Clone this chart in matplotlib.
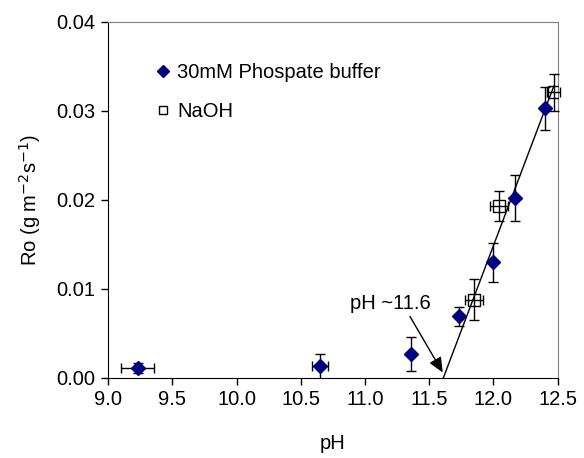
import numpy as np
import matplotlib
matplotlib.use('Agg')
import matplotlib.pyplot as plt

plt.rcParams['font.family'] = ['Liberation Sans', 'DejaVu Sans']

# 30mM phosphate buffer (diamonds)
ph_buf = [9.23, 10.65, 11.36, 11.73, 12.00, 12.17, 12.40]
r_buf = [0.0011, 0.0013, 0.0027, 0.0069, 0.0130, 0.0202, 0.0303]
r_buf_err = [0.0006, 0.0014, 0.0019, 0.0011, 0.0022, 0.0026, 0.0024]
ph_buf_err = [0.13, 0.065, 0.0, 0.0, 0.0, 0.0, 0.0]

# NaOH (open squares)
ph_naoh = [11.85, 12.04, 12.47]
r_naoh = [0.0088, 0.0193, 0.0321]
r_naoh_err = [0.0023, 0.0017, 0.0021]
ph_naoh_err = [0.07, 0.07, 0.05]

# fitted line through onset pH ~11.6
fit_ph = [11.61, 12.47]
fit_r = [0.0, 0.0328]

FS = 14.5

fig = plt.figure(figsize=(5.84, 4.58), dpi=100)
ax = fig.add_axes([0.185, 0.175, 0.77, 0.777])

ax.plot(fit_ph, fit_r, color='black', lw=1.0, zorder=2)

ax.errorbar(ph_buf, r_buf, yerr=r_buf_err, xerr=ph_buf_err, fmt='none',
            ecolor='black', elinewidth=1.0, capsize=3.5, capthick=1.0, zorder=3)
ax.plot(ph_buf, r_buf, ls='none', marker='D', ms=7.5, color='#000080',
        mec='#000080', zorder=4, label='30mM Phospate buffer')

ax.errorbar(ph_naoh, r_naoh, yerr=r_naoh_err, xerr=ph_naoh_err, fmt='none',
            ecolor='black', elinewidth=1.0, capsize=3.5, capthick=1.0, zorder=3,
            clip_on=False)
ax.plot(ph_naoh, r_naoh, ls='none', marker='s', ms=8, mfc='none', mec='black',
        mew=1.0, zorder=4, label='NaOH')

# onset annotation
ax.text(11.2, 0.0084, 'pH ~11.6', fontsize=FS, ha='center', va='center')
ax.annotate('', xy=(11.605, 0.0006), xytext=(11.35, 0.0069),
            arrowprops=dict(arrowstyle='-|>,head_length=0.9,head_width=0.4',
                            color='black', lw=1.0, shrinkA=0, shrinkB=0))

ax.set_xlim(9.0, 12.5)
ax.set_ylim(0.0, 0.04)
xt = np.arange(9.0, 12.51, 0.5)
yt = np.arange(0.0, 0.041, 0.01)
ax.set_xticks(xt)
ax.set_yticks(yt)
ax.set_xticklabels([f'{v:.1f}' for v in xt])
ax.set_yticklabels([f'{v:.2f}' for v in yt])
ax.tick_params(direction='out', length=5, width=1.0, labelsize=FS, pad=4)

ax.spines['top'].set_color('#808080')
ax.spines['right'].set_color('#808080')

ax.set_xlabel('pH', fontsize=FS, labelpad=18)
ax.set_ylabel('Ro (g m$^{-2}$s$^{-1}$)', fontsize=FS, labelpad=10)

ax.legend(loc='upper left', bbox_to_anchor=(0.06, 0.935), frameon=False,
          fontsize=FS, handletextpad=0.2, labelspacing=1.0, handlelength=1.0,
          markerscale=0.75)

fig.savefig('out.png', dpi=100)
